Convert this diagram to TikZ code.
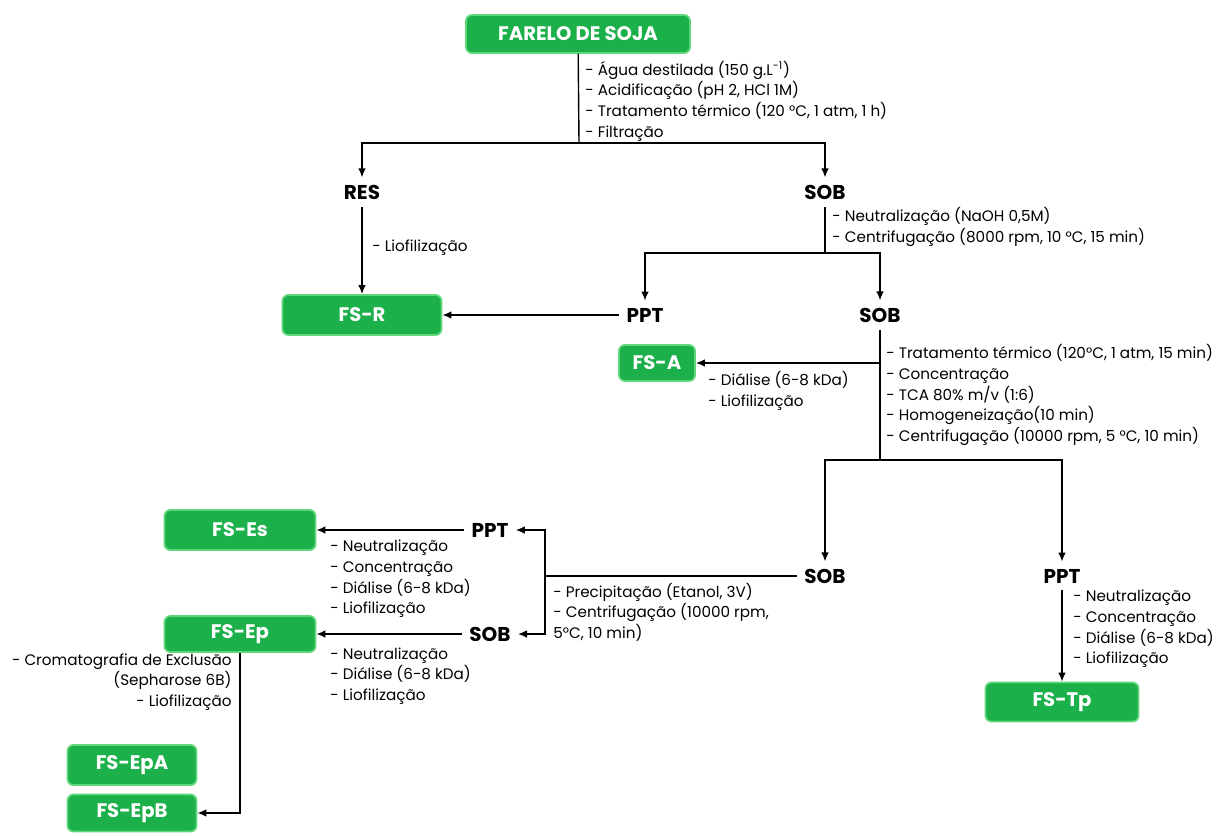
\documentclass[tikz,border=0pt]{standalone}
\usepackage{fontspec}
\setmainfont{Poppins}
\usetikzlibrary{arrows.meta}

\definecolor{boxfill}{RGB}{28,176,74}
\definecolor{boxedge}{RGB}{95,214,122}

\tikzset{
  greenbox/.style={draw=boxedge, fill=boxfill, line width=0.9pt, rounded corners=3pt,
    text=white, font=\bfseries\fontsize{9.8}{11}\selectfont, minimum height=19pt, inner sep=0pt},
  stage/.style={font=\bfseries\fontsize{10}{12}\selectfont, inner sep=3.5pt},
  note/.style={font=\fontsize{7.6}{10.3}\selectfont, align=left, anchor=west, inner sep=0pt},
  flow/.style={line width=0.7pt, -{Latex[length=4.5pt,width=3.8pt]}},
  plain/.style={line width=0.7pt}
}

\begin{document}
\begin{tikzpicture}[x=0.5pt, y=-0.5pt]
    \useasboundingbox (0,0) rectangle (1224,835);

    % boxes
    \node[greenbox, minimum width=112pt] (farelo) at (578,34) {FARELO DE SOJA};
    \node[greenbox, minimum width=79.5pt, minimum height=20pt] (fsr) at (362,315) {FS-R};
    \node[greenbox, minimum width=38pt, minimum height=18pt] (fsa) at (657,363) {FS-A};
    \node[greenbox, minimum width=75.5pt, minimum height=20pt] (fses) at (240,530) {FS-Es};
    \node[greenbox, minimum width=75.5pt, minimum height=18pt] (fsep) at (240,634) {FS-Ep};
    \node[greenbox, minimum width=64.5pt, minimum height=20pt] (fsepa) at (132,765) {FS-EpA};
    \node[greenbox, minimum width=64.5pt, minimum height=18.5pt] (fsepb) at (132,813) {FS-EpB};
    \node[greenbox, minimum width=76.5pt, minimum height=19.5pt] (fstp) at (1062,702) {FS-Tp};

    % stages
    \node[stage] (res) at (362,192) {RES};
    \node[stage] (sob1) at (825,192) {SOB};
    \node[stage] (ppt1) at (645,315) {PPT};
    \node[stage] (sob2) at (880,315) {SOB};
    \node[stage] (sob3) at (825,576) {SOB};
    \node[stage] (ppt3) at (1062,576) {PPT};
    \node[stage] (ppt4) at (490,530) {PPT};
    \node[stage] (sob4) at (490,634) {SOB};

    % junctions
    \coordinate (j1) at (579,143);
    \coordinate (j2) at (825,253);
    \coordinate (j3) at (880,460);
    \coordinate (j4) at (880,363);
    \coordinate (j5) at (545,576);

    % connectors
    \draw[plain] (farelo) -- (j1);
    \draw[flow] (j1) -| (res);
    \draw[flow] (j1) -| (sob1);
    \draw[flow] (res) -- (fsr);
    \draw[plain] (sob1) -- (j2);
    \draw[flow] (j2) -| (ppt1);
    \draw[flow] (j2) -| (sob2);
    \draw[flow] (ppt1) -- (fsr);
    \draw[plain] (sob2) -- (j3);
    \draw[flow] (j4) -- (fsa);
    \draw[flow] (j3) -| (sob3);
    \draw[flow] (j3) -| (ppt3);
    \draw[plain] (sob3) -- (j5);
    \draw[flow] (j5) |- (ppt4);
    \draw[flow] (j5) |- (sob4);
    \draw[flow] (ppt4) -- (fses);
    \draw[flow] (sob4) -- (fsep);
    \draw[flow] (fsep.south) |- (fsepb);
    \draw[flow] (ppt3) -- (fstp);

    % process notes
    \node[note] (n1) at (585,101) {- Água destilada (150 g.L\textsuperscript{-1})\\- Acidificação (pH 2, HCl 1M)\\- Tratamento térmico (120 °C, 1 atm, 1 h)\\- Filtração};
    \node[note] (n2) at (372,248) {- Liofilização};
    \node[note] (n3) at (832,227) {- Neutralização (NaOH 0,5M)\\- Centrifugação (8000 rpm, 10 °C, 15 min)};
    \node[note] (n4) at (708,391) {- Diálise (6-8 kDa)\\- Liofilização};
    \node[note] (n5) at (886,395) {- Tratamento térmico (120°C, 1 atm, 15 min)\\- Concentração\\- TCA 80\% m/v (1:6)\\- Homogeneização(10 min)\\- Centrifugação (10000 rpm, 5 °C, 10 min)};
    \node[note] (n6) at (553,612) {- Precipitação (Etanol, 3V)\\- Centrifugação (10000 rpm,\\5°C, 10 min)};
    \node[note] (n7) at (330,579) {- Neutralização\\- Concentração\\- Diálise (6-8 kDa)\\- Liofilização};
    \node[note] (n8) at (330,676) {- Neutralização\\- Diálise (6-8 kDa)\\- Liofilização};
    \node[note, anchor=east, align=right] (n9) at (232,682) {- Cromatografia de Exclusão\\(Sepharose 6B)\\- Liofilização};
    \node[note] (n10) at (1073,629) {- Neutralização\\- Concentração\\- Diálise (6-8 kDa)\\- Liofilização};
\end{tikzpicture}
\end{document}
